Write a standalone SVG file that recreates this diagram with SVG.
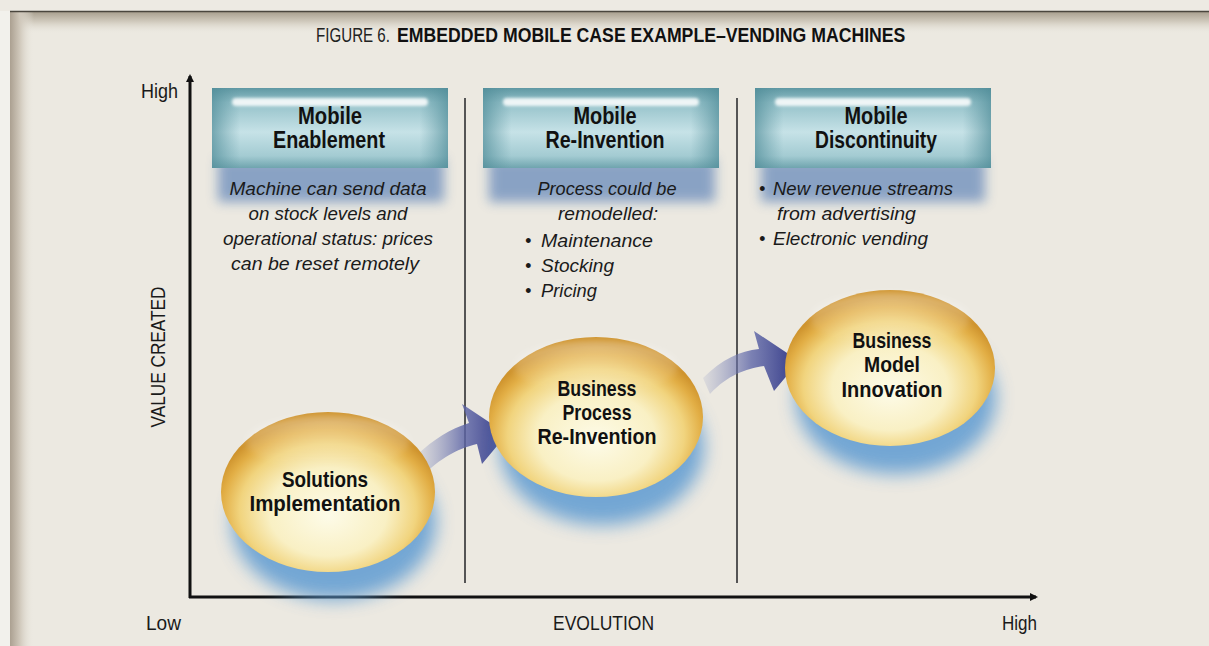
<svg xmlns="http://www.w3.org/2000/svg" width="1209" height="646" viewBox="0 0 1209 646">
<defs>
<style>
.cond{font-family:"Liberation Sans","DejaVu Sans",sans-serif;}
.lbl{font-family:"Liberation Sans","DejaVu Sans",sans-serif;font-size:21px;fill:#1a1a1a;}
.hdr{font-family:"Liberation Sans","DejaVu Sans",sans-serif;font-size:23px;font-weight:bold;fill:#111;text-anchor:middle;}
.desc{font-family:"Liberation Sans","DejaVu Sans",sans-serif;font-size:18px;font-style:italic;fill:#1a1a1a;}
.node{font-family:"Liberation Sans","DejaVu Sans",sans-serif;font-size:22px;font-weight:bold;fill:#111;text-anchor:middle;}
.axis{stroke:#111;stroke-width:3;fill:none;}
.div{stroke:#555;stroke-width:2;}
</style>
<linearGradient id="leftShade" x1="0" y1="0" x2="1" y2="0">
<stop offset="0" stop-color="#ABA091"/>
<stop offset="0.4" stop-color="#CFC7BA"/>
<stop offset="1" stop-color="#ECE9E1" stop-opacity="0"/>
</linearGradient>
<linearGradient id="topShade" x1="0" y1="0" x2="0" y2="1">
<stop offset="0" stop-color="#A9A090"/>
<stop offset="0.45" stop-color="#D2CCBF"/>
<stop offset="1" stop-color="#ECE9E1" stop-opacity="0"/>
</linearGradient>
<linearGradient id="boxFill" x1="0" y1="0" x2="0" y2="1">
<stop offset="0" stop-color="#5F98A3"/>
<stop offset="0.18" stop-color="#94C1C9"/>
<stop offset="0.55" stop-color="#C6E2E7"/>
<stop offset="0.85" stop-color="#A3CBD2"/>
<stop offset="1" stop-color="#6FA4AE"/>
</linearGradient>
<linearGradient id="boxSide" x1="0" y1="0" x2="1" y2="0">
<stop offset="0" stop-color="#4F8C98" stop-opacity="0.7"/>
<stop offset="0.12" stop-color="#5E97A2" stop-opacity="0"/>
<stop offset="0.88" stop-color="#5E97A2" stop-opacity="0"/>
<stop offset="1" stop-color="#4F8C98" stop-opacity="0.7"/>
</linearGradient>
<radialGradient id="gold" cx="0.5" cy="0.6" r="0.55" fx="0.5" fy="0.65">
<stop offset="0" stop-color="#FDFBE8"/>
<stop offset="0.5" stop-color="#F9F0C4"/>
<stop offset="0.75" stop-color="#F1D47E"/>
<stop offset="0.9" stop-color="#E2AE45"/>
<stop offset="1" stop-color="#CF942E"/>
</radialGradient>
<linearGradient id="goldHi" x1="0" y1="0" x2="0" y2="1">
<stop offset="0" stop-color="#FFFFFF" stop-opacity="0.35"/>
<stop offset="1" stop-color="#FFFFFF" stop-opacity="0"/>
</linearGradient>
<linearGradient id="arrowG" x1="0" y1="0" x2="1" y2="0">
<stop offset="0" stop-color="#8A93C0" stop-opacity="0.15"/>
<stop offset="0.5" stop-color="#5F67A8" stop-opacity="0.8"/>
<stop offset="1" stop-color="#2F3585"/>
</linearGradient>
<filter id="blur8" x="-30%" y="-50%" width="160%" height="200%"><feGaussianBlur stdDeviation="9"/></filter>
<filter id="blur6" x="-30%" y="-80%" width="160%" height="260%"><feGaussianBlur stdDeviation="6"/></filter>
<filter id="blur2" x="-20%" y="-100%" width="140%" height="300%"><feGaussianBlur stdDeviation="1.5"/></filter>
<filter id="hiBlur" x="-20%" y="-50%" width="140%" height="200%"><feGaussianBlur stdDeviation="3"/></filter>
<marker id="ah" markerWidth="8" markerHeight="8" refX="6" refY="4" orient="auto" markerUnits="userSpaceOnUse">
<path d="M0,0 L8,4 L0,8 Z" fill="#111"/>
</marker>
<g id="hbox">
<rect x="0" y="0" width="236" height="80" fill="url(#boxFill)"/>
<rect x="0" y="0" width="236" height="80" fill="url(#boxSide)"/>
<rect x="20" y="10" width="196" height="8" rx="4" fill="#FFFFFF" opacity="0.85" filter="url(#blur2)"/>
</g>
</defs>

<!-- background -->
<rect x="0" y="0" width="1209" height="646" fill="#F2F1EC"/>
<rect x="0" y="0" width="1209" height="11" fill="#EDEAE3"/>
<rect x="10" y="11" width="1199" height="635" fill="#ECE9E1"/>
<rect x="10" y="12" width="1199" height="22" fill="url(#topShade)"/>
<rect x="10" y="12" width="24" height="634" fill="url(#leftShade)"/>
<line x1="10" y1="11.5" x2="1209" y2="11.5" stroke="#4A463E" stroke-width="1.5"/>

<!-- title -->
<text class="cond" font-size="20" fill="#222" transform="translate(316,42) scale(0.757,1)">FIGURE 6.</text>
<text class="cond" font-size="20" font-weight="bold" fill="#111" transform="translate(397,42) scale(0.884,1)">EMBEDDED MOBILE CASE EXAMPLE–VENDING MACHINES</text>

<!-- axes and dividers -->
<g id="connectors">
<line class="div" x1="465" y1="98" x2="465" y2="583"/>
<line class="div" x1="737" y1="98" x2="737" y2="583"/>
<line class="axis" x1="190" y1="598" x2="190" y2="76" marker-end="url(#ah)"/>
<line class="axis" x1="189" y1="597" x2="1036" y2="597" marker-end="url(#ah)"/>
<path d="M424,474 C445,455 460,448 477,444 L482,464 L507,434 L462,404 L469,423 C450,429 434,439 417,455 Z" fill="url(#arrowG)"/>
<path d="M710,394 C728,375 745,369 764,366 L774,391 L799,361 L754,331 L759,349 C740,351 722,359 703,378 Z" fill="url(#arrowG)"/>
</g>

<!-- axis labels -->
<text class="lbl" x="141" y="98" textLength="37" lengthAdjust="spacingAndGlyphs">High</text>
<text class="lbl" font-size="22" transform="translate(165,357) rotate(-90)" text-anchor="middle" textLength="141" lengthAdjust="spacingAndGlyphs">VALUE  CREATED</text>
<text class="lbl" x="146" y="630" textLength="35" lengthAdjust="spacingAndGlyphs">Low</text>
<text class="lbl" x="553" y="630" textLength="101" lengthAdjust="spacingAndGlyphs">EVOLUTION</text>
<text class="lbl" x="1002" y="630" textLength="35" lengthAdjust="spacingAndGlyphs">High</text>

<!-- header 1 -->
<g id="header1">
<rect x="218" y="158" width="226" height="44" fill="#7896C0" opacity="0.85" filter="url(#blur6)"/>
<use href="#hbox" x="212" y="88"/>
<text class="hdr" x="330" y="124" textLength="64" lengthAdjust="spacingAndGlyphs">Mobile</text>
<text class="hdr" x="329" y="148" textLength="112" lengthAdjust="spacingAndGlyphs">Enablement</text>
<text class="desc" x="328" y="195" text-anchor="middle" textLength="197" lengthAdjust="spacingAndGlyphs">Machine can send data</text>
<text class="desc" x="328" y="220" text-anchor="middle" textLength="159" lengthAdjust="spacingAndGlyphs">on stock levels and</text>
<text class="desc" x="328" y="245" text-anchor="middle" textLength="210" lengthAdjust="spacingAndGlyphs">operational status: prices</text>
<text class="desc" x="325" y="270" text-anchor="middle" textLength="188" lengthAdjust="spacingAndGlyphs">can be reset remotely</text>
</g>

<!-- header 2 -->
<g id="header2">
<rect x="489" y="158" width="226" height="44" fill="#7896C0" opacity="0.85" filter="url(#blur6)"/>
<use href="#hbox" x="483" y="88"/>
<text class="hdr" x="605" y="124" textLength="63" lengthAdjust="spacingAndGlyphs">Mobile</text>
<text class="hdr" x="605" y="148" textLength="119" lengthAdjust="spacingAndGlyphs">Re-Invention</text>
<text class="desc" x="607" y="195" text-anchor="middle" textLength="139" lengthAdjust="spacingAndGlyphs">Process could be</text>
<text class="desc" x="608" y="220" text-anchor="middle" textLength="100" lengthAdjust="spacingAndGlyphs">remodelled:</text>
<text class="desc" x="525" y="247" font-size="14">•</text>
<text class="desc" x="541" y="247" textLength="112" lengthAdjust="spacingAndGlyphs">Maintenance</text>
<text class="desc" x="525" y="272" font-size="14">•</text>
<text class="desc" x="541" y="272" textLength="73" lengthAdjust="spacingAndGlyphs">Stocking</text>
<text class="desc" x="525" y="297" font-size="14">•</text>
<text class="desc" x="541" y="297" textLength="56" lengthAdjust="spacingAndGlyphs">Pricing</text>
</g>

<!-- header 3 -->
<g id="header3">
<rect x="761" y="158" width="224" height="44" fill="#7896C0" opacity="0.85" filter="url(#blur6)"/>
<use href="#hbox" x="755" y="88"/>
<text class="hdr" x="876" y="124" textLength="63" lengthAdjust="spacingAndGlyphs">Mobile</text>
<text class="hdr" x="876" y="148" textLength="122" lengthAdjust="spacingAndGlyphs">Discontinuity</text>
<text class="desc" x="759" y="195" font-size="14">•</text>
<text class="desc" x="773" y="195" textLength="180" lengthAdjust="spacingAndGlyphs">New revenue streams</text>
<text class="desc" x="777" y="220" textLength="139" lengthAdjust="spacingAndGlyphs">from advertising</text>
<text class="desc" x="759" y="245" font-size="14">•</text>
<text class="desc" x="773" y="245" textLength="155" lengthAdjust="spacingAndGlyphs">Electronic vending</text>
</g>

<!-- node 1 -->
<g id="node1">
<ellipse cx="334" cy="522" rx="102" ry="78" fill="#5E9BD2" opacity="0.85" filter="url(#blur8)"/>
<ellipse cx="328" cy="492" rx="107" ry="80" fill="url(#gold)"/>
<ellipse cx="328" cy="442" rx="82" ry="26" fill="url(#goldHi)" filter="url(#hiBlur)"/>
<text class="node" x="325" y="487" textLength="86" lengthAdjust="spacingAndGlyphs">Solutions</text>
<text class="node" x="325" y="511" textLength="151" lengthAdjust="spacingAndGlyphs">Implementation</text>
</g>

<!-- node 2 -->
<g id="node2">
<ellipse cx="602" cy="447" rx="102" ry="78" fill="#5E9BD2" opacity="0.85" filter="url(#blur8)"/>
<ellipse cx="596" cy="417" rx="107" ry="80" fill="url(#gold)"/>
<ellipse cx="596" cy="367" rx="82" ry="26" fill="url(#goldHi)" filter="url(#hiBlur)"/>
<text class="node" x="597" y="396" textLength="79" lengthAdjust="spacingAndGlyphs">Business</text>
<text class="node" x="597" y="420" textLength="69" lengthAdjust="spacingAndGlyphs">Process</text>
<text class="node" x="597" y="444" textLength="119" lengthAdjust="spacingAndGlyphs">Re-Invention</text>
</g>

<!-- node 3 -->
<g id="node3">
<ellipse cx="896" cy="398" rx="100" ry="76" fill="#5E9BD2" opacity="0.85" filter="url(#blur8)"/>
<ellipse cx="890" cy="368" rx="105" ry="78" fill="url(#gold)"/>
<ellipse cx="890" cy="319" rx="80" ry="26" fill="url(#goldHi)" filter="url(#hiBlur)"/>
<text class="node" x="892" y="348" textLength="79" lengthAdjust="spacingAndGlyphs">Business</text>
<text class="node" x="892" y="372" textLength="56" lengthAdjust="spacingAndGlyphs">Model</text>
<text class="node" x="892" y="397" textLength="101" lengthAdjust="spacingAndGlyphs">Innovation</text>
</g>
</svg>
